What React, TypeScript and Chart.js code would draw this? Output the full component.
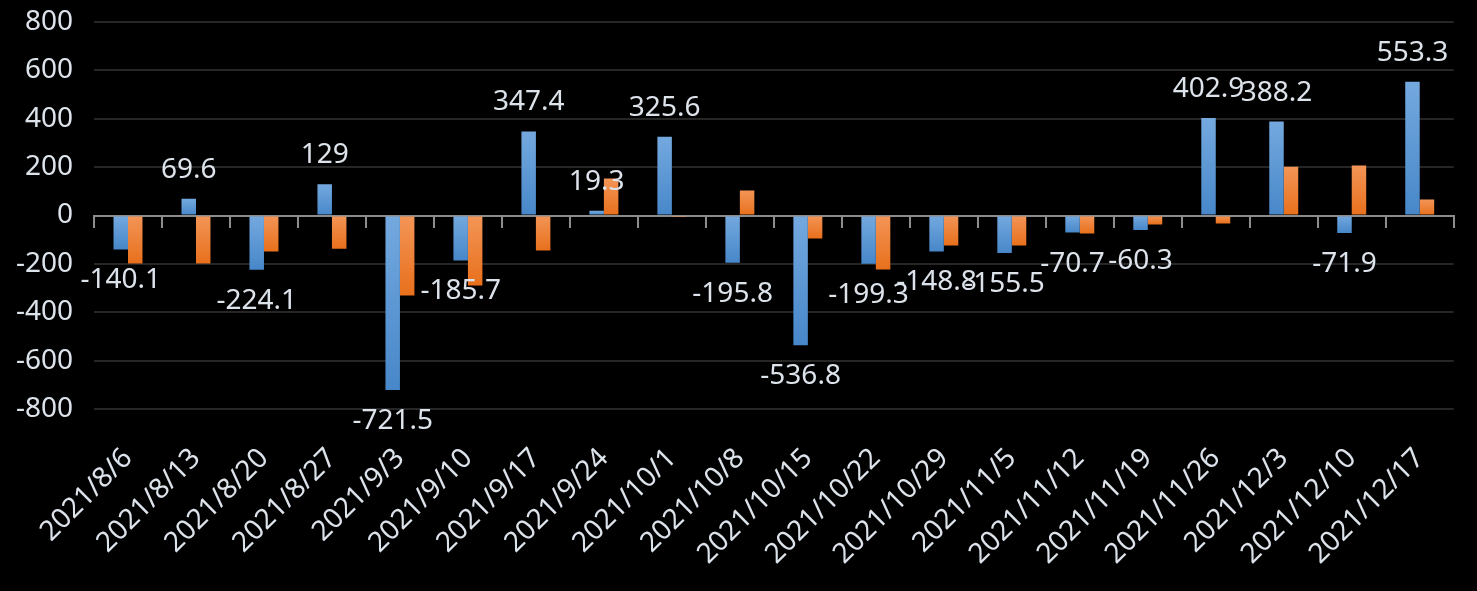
import React, { useEffect, useRef } from 'react';
import { Chart, registerables } from 'chart.js';

Chart.register(...registerables);

const categories = [
  '2021/8/6', '2021/8/13', '2021/8/20', '2021/8/27', '2021/9/3', '2021/9/10',
  '2021/9/17', '2021/9/24', '2021/10/1', '2021/10/8', '2021/10/15', '2021/10/22',
  '2021/10/29', '2021/11/5', '2021/11/12', '2021/11/19', '2021/11/26', '2021/12/3',
  '2021/12/10', '2021/12/17',
];

const seriesBlue = [
  -140.1, 69.6, -224.1, 129, -721.5, -185.7, 347.4, 19.3, 325.6, -195.8,
  -536.8, -199.3, -148.8, -155.5, -70.7, -60.3, 402.9, 388.2, -71.9, 553.3,
];

const seriesOrange = [
  -198, -198, -149, -137, -331, -289, -145, 153, -2, 103,
  -95, -223, -124, -124, -74, -37, -33, 202, 207, 66,
];

const yMin = -800;
const yMax = 800;
const yStep = 200;

const TEXT = '#dde3eb';
const FONT = '"Noto Sans", "DejaVu Sans", sans-serif';

const gradient = (top: string, bottom: string) => (ctx: any) => {
  const chart = ctx.chart;
  const y = chart.scales && chart.scales.y;
  if (ctx.type !== 'data' || !y) return bottom;
  const v = ctx.raw as number;
  const p0 = y.getPixelForValue(0);
  const p1 = y.getPixelForValue(v);
  const t = Math.min(p0, p1);
  const b = Math.max(p0, p1);
  if (!isFinite(t) || !isFinite(b) || b - t < 1) return top;
  const g = chart.ctx.createLinearGradient(0, t, 0, b);
  g.addColorStop(0, top);
  g.addColorStop(1, bottom);
  return g;
};

const labelPlugin = {
  id: 'blueLabels',
  afterDatasetsDraw(chart: any) {
    const meta = chart.getDatasetMeta(0);
    const ds = chart.data.datasets[0];
    const ctx = chart.ctx;
    ctx.save();
    ctx.font = `28px ${FONT}`;
    ctx.fillStyle = TEXT;
    ctx.textAlign = 'center';
    ctx.textBaseline = 'alphabetic';
    meta.data.forEach((bar: any, i: number) => {
      const v = ds.data[i] as number;
      const txt = String(v);
      if (v >= 0) {
        ctx.fillText(txt, bar.x, bar.y - 21);
      } else {
        ctx.fillText(txt, bar.x, bar.y + 39);
      }
    });
    ctx.restore();
  },
};

export default function App() {
  const ref = useRef<HTMLCanvasElement | null>(null);

  useEffect(() => {
    document.body.style.margin = '0';
    document.body.style.background = '#000';
    const canvas = ref.current;
    if (!canvas) return;
    const chart = new Chart(canvas, {
      type: 'bar',
      data: {
        labels: categories,
        datasets: [
          {
            label: 'A',
            data: seriesBlue,
            backgroundColor: gradient('#74a9df', '#4787c9'),
            borderWidth: 0,
            xAxisID: 'x',
          },
          {
            label: 'B',
            data: seriesOrange,
            backgroundColor: gradient('#f39557', '#e8701c'),
            borderWidth: 0,
            xAxisID: 'x',
          },
        ],
      },
      options: {
        animation: false,
        responsive: false,
        maintainAspectRatio: false,
        layout: { padding: { top: 22, right: 21, bottom: 0, left: 0 } },
        datasets: {
          bar: { categoryPercentage: 0.426, barPercentage: 1 },
        },
        plugins: {
          legend: { display: false },
          tooltip: { enabled: false },
          title: { display: false },
        },
        scales: {
          x: {
            type: 'category',
            position: 'bottom',
            offset: true,
            grid: { display: false, drawTicks: false, offset: true },
            border: { display: false },
            ticks: {
              color: TEXT,
              font: { family: FONT, size: 28 },
              minRotation: 45,
              maxRotation: 45,
              autoSkip: false,
              padding: 33,
            },
            afterFit: (s: any) => {
              s.height = 182;
            },
          },
          x0: {
            type: 'category',
            position: { y: 0 } as any,
            offset: true,
            z: 1,
            grid: {
              offset: true,
              drawOnChartArea: false,
              drawTicks: true,
              tickLength: 11,
              color: '#8c8c8c',
              lineWidth: 2,
            },
            border: { display: true, color: '#8c8c8c', width: 2 },
            ticks: { display: false },
          },
          y: {
            min: yMin,
            max: yMax,
            border: { display: false },
            grid: {
              color: (c: any) => (c.tick && c.tick.value === 0 ? 'rgba(0,0,0,0)' : '#262626'),
              lineWidth: 2,
              drawTicks: false,
            },
            ticks: {
              stepSize: yStep,
              color: TEXT,
              font: { family: FONT, size: 28 },
              padding: 21,
            },
            afterFit: (s: any) => {
              s.width = 94;
              s.paddingTop = 16;
              s.paddingBottom = 16;
            },
          },
        },
      },
      plugins: [labelPlugin],
    });
    return () => chart.destroy();
  }, []);

  return (
    <div style={{ width: 1477, height: 591, background: '#000' }}>
      <canvas ref={ref} width={1477} height={591} style={{ display: 'block' }} />
    </div>
  );
}
